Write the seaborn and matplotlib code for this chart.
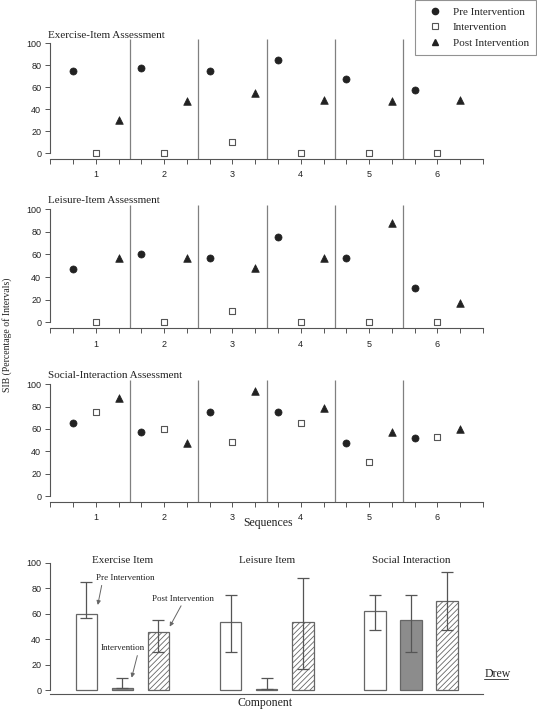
import numpy as np
import pandas as pd
import matplotlib
matplotlib.use("Agg")
import matplotlib.pyplot as plt
from matplotlib.lines import Line2D
import seaborn as sns

# ---------------- data ----------------
sequences = [1, 2, 3, 4, 5, 6]
phases = ["Pre Intervention", "Intervention", "Post Intervention"]

exercise_pre = [75, 77, 75, 85, 67, 57]
exercise_int = [0, 0, 10, 0, 0, 0]
exercise_post = [30, 47, 55, 48, 47, 48]

leisure_pre = [47, 60, 57, 75, 57, 30]
leisure_int = [0, 0, 10, 0, 0, 0]
leisure_post = [57, 57, 48, 57, 88, 17]

social_pre = [65, 57, 75, 75, 47, 52]
social_int = [75, 60, 48, 65, 30, 53]
social_post = [88, 47, 94, 79, 57, 60]

panel_titles = ["Exercise-Item Assessment", "Leisure-Item Assessment",
                "Social-Interaction Assessment"]

components = ["Exercise Item", "Leisure Item", "Social Interaction"]
bar_pre = [60, 54, 62]
bar_int = [2, 1, 55]
bar_post = [46, 54, 70]
err_low_pre = [57, 30, 47]
err_high_pre = [85, 75, 75]
err_low_int = [2, 1, 30]
err_high_int = [10, 10, 75]
err_low_post = [30, 17, 47]
err_high_post = [55, 88, 93]

y_ticks = [0, 20, 40, 60, 80, 100]

# ---------------- style ----------------
sns.set_theme(style="ticks")
plt.rcParams["font.family"] = ["Liberation Sans", "DejaVu Sans"]
plt.rcParams["hatch.linewidth"] = 0.6
plt.rcParams["hatch.color"] = "#555555"
SERIF = ["Liberation Serif", "DejaVu Serif"]
AX_COL = "#555555"
DARK = "#222222"

fig = plt.figure(figsize=(5.37, 7.10), dpi=100)

panel_pos = [
    [0.0937, 0.7766, 0.8057, 0.1626],
    [0.0937, 0.5380, 0.8057, 0.1675],
    [0.0937, 0.2935, 0.8057, 0.1654],
]
panel_data = [
    (exercise_pre, exercise_int, exercise_post),
    (leisure_pre, leisure_int, leisure_post),
    (social_pre, social_int, social_post),
]
offsets = {"Pre Intervention": -1 / 3, "Intervention": 0.0, "Post Intervention": 1 / 3}
marker_style = {
    "Pre Intervention": dict(marker="o", s=26, color=DARK, edgecolor=DARK, linewidth=0.5),
    "Intervention": dict(marker="s", s=22, color="white", edgecolor="#555555", linewidth=0.8),
    "Post Intervention": dict(marker="^", s=30, color=DARK, edgecolor=DARK, linewidth=0.5),
}

tick_pos = [k / 3 for k in range(1, 21)]
tick_lab = [str(int(round(t))) if abs(t - round(t)) < 1e-6 else "" for t in tick_pos]

for pos, (pre, itv, post), title in zip(panel_pos, panel_data, panel_titles):
    ax = fig.add_axes(pos)
    df = pd.DataFrame({
        "seq": sequences * 3,
        "phase": [p for p in phases for _ in sequences],
        "value": list(pre) + list(itv) + list(post),
    })
    df["x"] = df["seq"] + df["phase"].map(offsets)
    for ph in phases:
        sub = df[df["phase"] == ph]
        sns.scatterplot(data=sub, x="x", y="value", ax=ax, legend=False,
                        zorder=3, clip_on=False, **marker_style[ph])
    ax.vlines([1.5, 2.5, 3.5, 4.5, 5.5], -5, 104, colors="#808080",
              linewidth=0.9, clip_on=False, zorder=1)
    ax.set_xlim(1 / 3, 20 / 3)
    ax.set_ylim(-5, 100)
    ax.set_xticks(tick_pos)
    ax.set_xticklabels(tick_lab)
    ax.set_yticks(y_ticks)
    ax.set_xlabel("")
    ax.set_ylabel("")
    sns.despine(ax=ax)
    for sp in ["left", "bottom"]:
        ax.spines[sp].set_color(AX_COL)
        ax.spines[sp].set_linewidth(0.8)
    ax.spines["left"].set_bounds(0, 100)
    ax.tick_params(axis="both", colors=AX_COL, labelcolor="#222222",
                   labelsize=6.5, length=3.5, width=0.7, pad=3)
    ax.tick_params(axis="x", pad=5)
    ax.text(-0.005, 1.07, title, transform=ax.transAxes, family=SERIF,
            fontsize=8, ha="left", va="center", color="#222222")

# ---------------- bar panel ----------------
axb = fig.add_axes([0.0937, 0.0231, 0.8057, 0.1842])
bdf = pd.DataFrame({
    "component": components * 3,
    "phase": [p for p in phases for _ in components],
    "value": bar_pre + bar_int + bar_post,
})
sns.barplot(data=bdf, x="component", y="value", hue="phase", hue_order=phases,
            order=components, ax=axb, width=0.75, gap=0.4, legend=False,
            errorbar=None, palette=["white", "#8c8c8c", "white"])
styles = [dict(fc="white", hatch=None), dict(fc="#8c8c8c", hatch=None),
          dict(fc="white", hatch="//////")]
for cont, st in zip(axb.containers, styles):
    for p in cont:
        p.set_facecolor(st["fc"])
        p.set_edgecolor("#666666")
        p.set_linewidth(0.9)
        if st["hatch"]:
            p.set_hatch(st["hatch"])

lows = [err_low_pre, err_low_int, err_low_post]
highs = [err_high_pre, err_high_int, err_high_post]
vals = [bar_pre, bar_int, bar_post]
for cont, lo, hi, v in zip(axb.containers, lows, highs, vals):
    xs = [p.get_x() + p.get_width() / 2 for p in cont]
    v = np.array(v, float)
    yerr = np.vstack([v - np.array(lo, float), np.array(hi, float) - v])
    axb.errorbar(xs, v, yerr=yerr, fmt="none", ecolor="#555555",
                 elinewidth=0.9, capsize=4, capthick=0.9, zorder=4)

axb.set_xlim(-0.5, 2.5)
axb.set_ylim(-2.5, 100)
axb.set_yticks(y_ticks)
axb.set_xticks([])
axb.set_xlabel("")
axb.set_ylabel("")
sns.despine(ax=axb)
for sp in ["left", "bottom"]:
    axb.spines[sp].set_color(AX_COL)
    axb.spines[sp].set_linewidth(0.8)
axb.spines["left"].set_bounds(0, 100)
axb.tick_params(axis="y", colors=AX_COL, labelcolor="#222222",
                labelsize=6.5, length=3.5, width=0.7, pad=3)

for i, c in enumerate(components):
    axb.text(i, 101.5, c, ha="center", va="center", family=SERIF,
             fontsize=8, color="#222222", clip_on=False)

arrow_kw = dict(arrowstyle="-|>", color="#666666", lw=0.7,
                mutation_scale=6, shrinkA=0, shrinkB=0)
axb.annotate("Pre Intervention", xy=(-0.171, 67), xytext=(0.023, 88),
             ha="center", va="center", family=SERIF, fontsize=6.5,
             color="#222222", arrowprops=dict(arrow_kw, relpos=(0.1, 0)))
axb.annotate("Intervention", xy=(0.064, 10), xytext=(0.002, 33),
             ha="center", va="center", family=SERIF, fontsize=6.5,
             color="#222222", arrowprops=dict(arrow_kw, relpos=(0.85, 0)))
axb.annotate("Post Intervention", xy=(0.328, 50), xytext=(0.419, 72),
             ha="center", va="center", family=SERIF, fontsize=6.5,
             color="#222222", arrowprops=dict(arrow_kw, relpos=(0.5, 0)))

axb.text(2.508, 13, "Drew", ha="left", va="center", family=SERIF,
         fontsize=8.5, color="#222222", clip_on=False)
axb.plot([2.508, 2.672], [9.3, 9.3], color="#444444", lw=0.7, clip_on=False)

# ---------------- labels ----------------
fig.text(0.499, 0.264, "Sequences", ha="center", va="center", family=SERIF,
         fontsize=8.5, color="#222222")
fig.text(0.494, 0.0094, "Component", ha="center", va="center", family=SERIF,
         fontsize=8.5, color="#222222")
fig.text(0.0125, 0.528, "SIB (Percentage of Intervals)", rotation=90,
         ha="center", va="center", family=SERIF, fontsize=7, color="#222222")

# ---------------- legend ----------------
handles = [
    Line2D([], [], linestyle="none", marker="o", markersize=4.5, color=DARK),
    Line2D([], [], linestyle="none", marker="s", markersize=4.3,
           markerfacecolor="white", markeredgecolor="#555555", markeredgewidth=0.8),
    Line2D([], [], linestyle="none", marker="^", markersize=4.8, color=DARK),
]
leg = fig.legend(handles, phases, loc="upper left",
                 bbox_to_anchor=(415 / 537, 1.0), frameon=True, fancybox=False,
                 prop={"family": SERIF, "size": 8}, handlelength=2.3,
                 handletextpad=0.47, labelspacing=0.5, borderpad=0.65,
                 borderaxespad=0.0)
leg.get_frame().set_edgecolor("#777777")
leg.get_frame().set_linewidth(0.8)

fig.savefig("out.png", dpi=100)
